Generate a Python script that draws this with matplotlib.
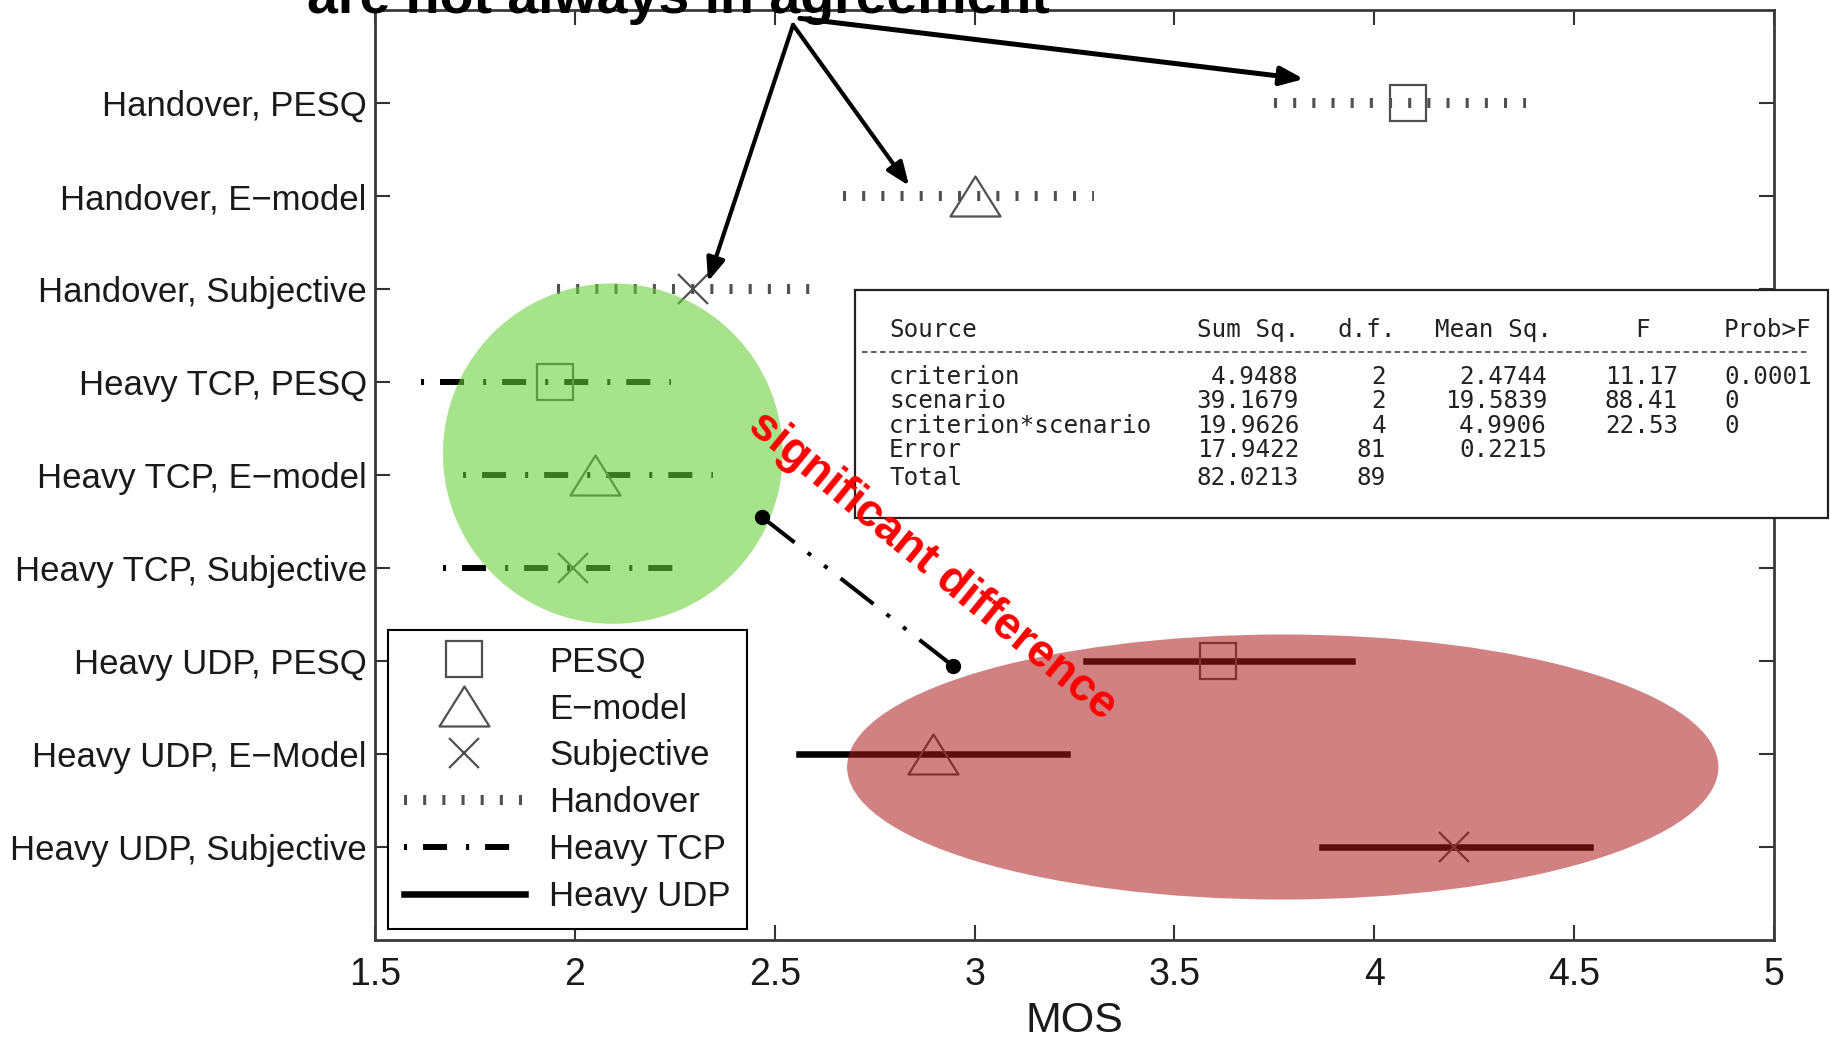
import matplotlib.pyplot as plt
from matplotlib.lines import Line2D
from matplotlib.patches import Ellipse, Rectangle
from matplotlib.path import Path

plt.rcParams['font.family'] = ['Liberation Sans', 'DejaVu Sans']
plt.rcParams['lines.scale_dashes'] = False

# multiple comparison intervals (MOS)
labels = ['Handover, PESQ', 'Handover, E\u2212model', 'Handover, Subjective',
          'Heavy TCP, PESQ', 'Heavy TCP, E\u2212model', 'Heavy TCP, Subjective',
          'Heavy UDP, PESQ', 'Heavy UDP, E\u2212Model', 'Heavy UDP, Subjective']
scenario = ['Handover'] * 3 + ['Heavy TCP'] * 3 + ['Heavy UDP'] * 3
criterion = ['PESQ', 'E-model', 'Subjective'] * 3
means = [4.085, 3.00, 2.295, 1.95, 2.05, 1.995, 3.61, 2.895, 4.20]
lower = [3.75, 2.67, 1.955, 1.615, 1.72, 1.67, 3.28, 2.56, 3.87]
upper = [4.38, 3.30, 2.59, 2.24, 2.345, 2.29, 3.945, 3.23, 4.54]

xticks = [1.5, 2, 2.5, 3, 3.5, 4, 4.5, 5]
xtick_labels = ['1.5', '2', '2.5', '3', '3.5', '4', '4.5', '5']

# ANOVA table
anova_header = ['Source', 'Sum Sq.', 'd.f.', 'Mean Sq.', 'F', 'Prob>F']
anova_source = ['criterion', 'scenario', 'criterion*scenario', 'Error', 'Total']
anova_ss = ['4.9488', '39.1679', '19.9626', '17.9422', '82.0213']
anova_df = ['2', '2', '4', '81', '89']
anova_ms = ['2.4744', '19.5839', '4.9906', '0.2215', '']
anova_f = ['11.17', '88.41', '22.53', '', '']
anova_p = ['0.0001', '0', '0', '', '']

W, H = 1830, 1042
def fx(px):
    return px / W
def fy(py):
    return 1 - py / H

tri = Path([(0, 0.8), (-1, -0.8), (1, -0.8), (0, 0.8)],
           [Path.MOVETO, Path.LINETO, Path.LINETO, Path.CLOSEPOLY])

line_styles = {
    'Handover': dict(color='#505050', lw=7.2, ls=(0, (2.2, 11.6))),
    'Heavy TCP': dict(color='k', lw=4.3, ls=(0, (2.2, 11.5, 17.3, 13.7))),
    'Heavy UDP': dict(color='k', lw=4.7, ls='-'),
}
marker_styles = {
    'PESQ': dict(marker='s', ms=26),
    'E-model': dict(marker=tri, ms=36),
    'Subjective': dict(marker='x', ms=21),
}
mk_common = dict(ls='none', mfc='none', mec='#505050', mew=1.6)

fig = plt.figure(figsize=(W / 100, H / 100), dpi=100)
ax = fig.add_axes([fx(375), fy(940), fx(1774) - fx(375), fy(10) - fy(940)])

for i in range(len(labels)):
    y = i + 1
    ax.plot([lower[i], upper[i]], [y, y], zorder=2, **line_styles[scenario[i]])
    ax.plot(means[i], y, zorder=3, **marker_styles[criterion[i]], **mk_common)

ax.set_xlim(1.5, 5)
ax.set_ylim(10, 0)
ax.set_yticks(range(1, 10))
ax.set_yticklabels(labels, fontsize=25, color='#1a1a1a')
ax.set_xticks(xticks)
ax.set_xticklabels(xtick_labels, fontsize=27, color='#1a1a1a')
ax.tick_params(direction='in', length=11, width=1.5, color='#333333',
               top=True, right=True)
ax.tick_params(axis='y', pad=6)
ax.tick_params(axis='x', pad=12)
for s in ax.spines.values():
    s.set_linewidth(2)
    s.set_color('#3a3a3a')
ax.set_xlabel('MOS', fontsize=31, labelpad=6, color='#1a1a1a')

# highlight regions
ax.add_patch(Ellipse((2.095, 4.77), 0.85, 3.66, fc='#66cf36', ec='none',
                     alpha=0.58, zorder=4))
ax.add_patch(Ellipse((3.771, 8.14), 2.18, 2.85, fc='#ac1a1a', ec='none',
                     alpha=0.55, zorder=4))

# connector between the two regions
ax.plot([2.4675, 2.945], [5.45, 7.05], color='k', lw=2.9,
        ls=(0, (30, 12, 3, 12, 3, 12)), marker='o', ms=10, zorder=6)

# arrows from the heading
arrow_start = [(2.563, 0.09), (2.546, 0.16), (2.546, 0.16)]
arrow_end = [(3.824, 0.742), (2.836, 1.89), (2.333, 2.92)]
arrow_lw = [3.6, 3.0, 3.0]
for (x0, y0), (x1, y1), lw in zip(arrow_start, arrow_end, arrow_lw):
    ax.annotate('', xy=(x1, y1), xytext=(x0, y0),
                arrowprops=dict(arrowstyle='-|>,head_length=0.7,head_width=0.28',
                                lw=lw, color='k', shrinkA=0, shrinkB=0,
                                mutation_scale=20), zorder=6)

# legend
handles = [Line2D([], [], **marker_styles[c], **mk_common)
           for c in ['PESQ', 'E-model', 'Subjective']]
handles += [Line2D([], [], **line_styles[s])
            for s in ['Handover', 'Heavy TCP', 'Heavy UDP']]
leg_labels = ['PESQ', 'E\u2212model', 'Subjective', 'Handover', 'Heavy TCP', 'Heavy UDP']
leg = ax.legend(handles, leg_labels, loc='upper left',
                bbox_to_anchor=(fx(388), fy(630)), bbox_transform=fig.transFigure,
                borderaxespad=0, fontsize=25, handlelength=3.5, handletextpad=0.7,
                labelspacing=0.4, borderpad=0.45, fancybox=False,
                edgecolor='k', framealpha=1)
leg.get_frame().set_linewidth(1.5)
for t in leg.get_texts():
    t.set_color('#1a1a1a')

# heading (cut off at top)
fig.text(fx(307), fy(13), 'are not always in agreement', fontsize=40,
         fontweight='bold', va='baseline', ha='left', zorder=7)

# ANOVA table box
fig.add_artist(Rectangle((fx(855), fy(518)), fx(1828) - fx(855), fy(290) - fy(518),
                         transform=fig.transFigure, fc='white', ec='#222222',
                         lw=1.6, zorder=5))
fig.add_artist(Line2D([fx(862), fx(1810)], [fy(352), fy(352)],
                      transform=fig.transFigure, color='#444444', lw=1.2,
                      ls=(0, (4, 2.5)), zorder=6))
mono = dict(family='DejaVu Sans Mono', fontsize=17.5, color='#222222',
            va='center', zorder=6)
hy = fy(330)
fig.text(fx(889), hy, anova_header[0], ha='left', **mono)
fig.text(fx(1299), hy, anova_header[1], ha='right', **mono)
fig.text(fx(1396), hy, anova_header[2], ha='right', **mono)
fig.text(fx(1552), hy, anova_header[3], ha='right', **mono)
fig.text(fx(1643), hy, anova_header[4], ha='center', **mono)
fig.text(fx(1724), hy, anova_header[5], ha='left', **mono)
row_y = [377, 401, 426, 450, 478]
for k in range(len(anova_source)):
    yy = fy(row_y[k])
    fig.text(fx(889), yy, anova_source[k], ha='left', **mono)
    fig.text(fx(1299), yy, anova_ss[k], ha='right', **mono)
    fig.text(fx(1386), yy, anova_df[k], ha='right', **mono)
    fig.text(fx(1547), yy, anova_ms[k], ha='right', **mono)
    fig.text(fx(1678), yy, anova_f[k], ha='right', **mono)
    fig.text(fx(1724), yy, anova_p[k], ha='left', **mono)

# red annotation, drawn above the table box
fig.text(2.894, 5.98, 'significant difference', transform=ax.transData,
         fontsize=33, fontweight='bold', color='#ff0000', rotation=-39.3,
         rotation_mode='anchor', ha='center', va='center', zorder=8)

fig.savefig('out.png', dpi=100)
